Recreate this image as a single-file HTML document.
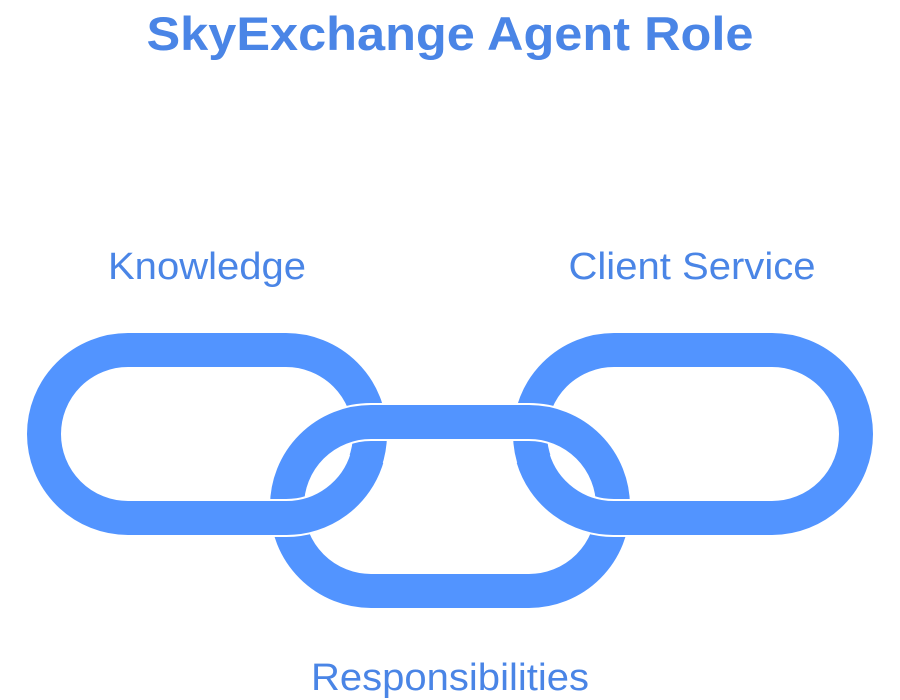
<!DOCTYPE html>
<html><head><style>html,body{margin:0;padding:0;background:#fff;}svg{display:block}</style></head>
<body>
<svg width="900" height="700" xmlns="http://www.w3.org/2000/svg">
<g font-family="Liberation Sans, Arial, sans-serif" fill="#4a85e6">
<text x="450" y="50" text-anchor="middle" font-size="47" font-weight="bold" textLength="607" lengthAdjust="spacingAndGlyphs">SkyExchange Agent Role</text>
<text x="207" y="279" text-anchor="middle" font-size="38" textLength="198" lengthAdjust="spacingAndGlyphs">Knowledge</text>
<text x="692" y="279" text-anchor="middle" font-size="38" textLength="247" lengthAdjust="spacingAndGlyphs">Client Service</text>
<text x="450" y="690" text-anchor="middle" font-size="38" textLength="278" lengthAdjust="spacingAndGlyphs">Responsibilities</text>
</g>
<g fill="none" stroke-linecap="butt">
<!-- left link -->
<rect x="44" y="350" width="326" height="168" rx="84" stroke="#fff" stroke-width="38"/>
<rect x="44" y="350" width="326" height="168" rx="84" stroke="#5294ff" stroke-width="34"/>
<!-- right link -->
<rect x="530" y="350" width="326" height="168" rx="84" stroke="#fff" stroke-width="38"/>
<rect x="530" y="350" width="326" height="168" rx="84" stroke="#5294ff" stroke-width="34"/>
<!-- middle link -->
<rect x="287" y="422" width="326" height="169" rx="84" stroke="#fff" stroke-width="38"/>
<rect x="287" y="422" width="326" height="169" rx="84" stroke="#5294ff" stroke-width="34"/>
<!-- left link bottom-right over middle -->
<path d="M250 518 L286 518 A84 84 0 0 0 366 460" stroke="#fff" stroke-width="38"/>
<path d="M248 518 L286 518 A84 84 0 0 0 367 458" stroke="#5294ff" stroke-width="34"/>
<!-- right link bottom-left over middle -->
<path d="M650 518 L614 518 A84 84 0 0 1 534 460" stroke="#fff" stroke-width="38"/>
<path d="M652 518 L614 518 A84 84 0 0 1 533 458" stroke="#5294ff" stroke-width="34"/>
</g>
</svg>
</body></html>
